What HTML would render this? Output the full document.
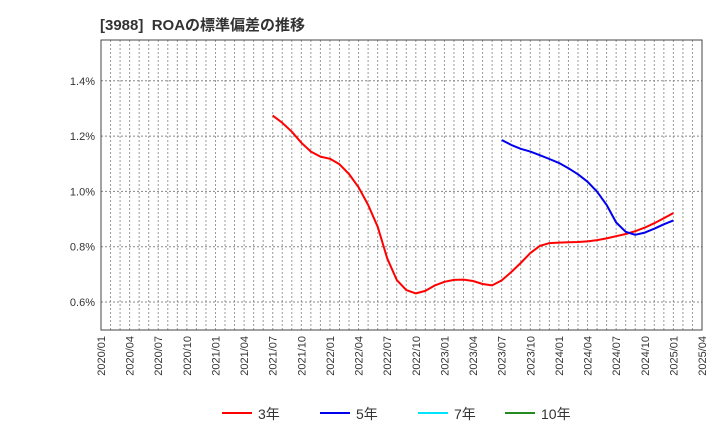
<!DOCTYPE html>
<html><head><meta charset="utf-8"><style>
body{margin:0;background:#fff;font-family:"Liberation Sans","Noto Sans CJK JP",sans-serif;}
svg text{font-family:"Liberation Sans","Noto Sans CJK JP",sans-serif;}
</style></head><body>
<svg id="c" width="720" height="440" xmlns="http://www.w3.org/2000/svg">
<text x="100" y="30" font-size="15" font-weight="bold" fill="#333">[3988]&#160; ROAの標準偏差の推移</text>
</svg>
<script>
const yTicks=[0.6,0.8,1.0,1.2,1.4];
const xTickLabels=["2020/01","2020/04","2020/07","2020/10","2021/01","2021/04","2021/07","2021/10","2022/01","2022/04","2022/07","2022/10","2023/01","2023/04","2023/07","2023/10","2024/01","2024/04","2024/07","2024/10","2025/01","2025/04"];
const s3Start=18; // months since 2020/01 (2021/07)
const s3=[1.274,1.248,1.216,1.176,1.144,1.126,1.118,1.098,1.063,1.015,0.951,0.872,0.758,0.680,0.643,0.631,0.640,0.660,0.673,0.680,0.681,0.676,0.665,0.660,0.678,0.708,0.741,0.777,0.803,0.813,0.815,0.816,0.817,0.819,0.824,0.830,0.838,0.846,0.856,0.869,0.885,0.903,0.922];
const s5Start=42; // 2023/07
const s5=[1.186,1.168,1.154,1.144,1.131,1.117,1.103,1.084,1.062,1.035,0.999,0.951,0.888,0.854,0.843,0.851,0.865,0.881,0.895];
const L=101,R=702,T=40,B=330,totalMonths=63;
const X=m=>L+(R-L)*m/totalMonths;
const Y=v=>302-(v-0.6)*276.5;
const svg=document.getElementById('c');
const NS="http://www.w3.org/2000/svg";
function mk(tag,attrs){const e=document.createElementNS(NS,tag);for(const k in attrs)e.setAttribute(k,attrs[k]);svg.appendChild(e);return e;}
for(let m=1;m<totalMonths;m++){
 const g=mk('line',{x1:X(m),x2:X(m),y1:T,y2:B,stroke:'#999','stroke-width':1,'stroke-dasharray':'2,2'});
 
 
}
yTicks.forEach(v=>{
 const g=mk('line',{x1:L,x2:R,y1:Y(v),y2:Y(v),stroke:'#888','stroke-width':1,'stroke-dasharray':'2,2'});
 
 
 const t=mk('text',{x:L-6,y:Y(v)+4,'font-size':11,'text-anchor':'end',fill:'#333'});
 t.textContent=v.toFixed(1)+'%';
 
 
});
const fr=mk('rect',{x:L,y:T,width:R-L,height:B-T,fill:'none',stroke:'#444','stroke-width':1});


xTickLabels.forEach((s,i)=>{
 const x=X(i*3);
 const t=mk('text',{x:0,y:0,'font-size':11,'text-anchor':'end',fill:'#333',transform:`translate(${x+4},${B+6}) rotate(-90)`});
 t.textContent=s;
 
 
});
function series(arr,start,color,name){
 const p=arr.map((v,i)=>X(start+i).toFixed(1)+','+Y(v).toFixed(1)).join(' ');
 const l=mk('polyline',{points:p,fill:'none',stroke:color,'stroke-width':2,'stroke-linejoin':'round'});
 
 
}
series(s3,s3Start,'#ff0000','series-3y-line');
series(s5,s5Start,'#0000ee','series-5y-line');
const legend=[["3年","#ff0000",222],["5年","#0000ee",320],["7年","#00e5ff",418],["10年","#228b22",505]];
legend.forEach(([lab,col,x])=>{
 const l=mk('line',{x1:x,x2:x+30,y1:413,y2:413,stroke:col,'stroke-width':2});
 
 
 const t=mk('text',{x:x+36,y:419,'font-size':14,fill:'#333'});
 t.textContent=lab;
 
 
});
</script>
</body></html>
